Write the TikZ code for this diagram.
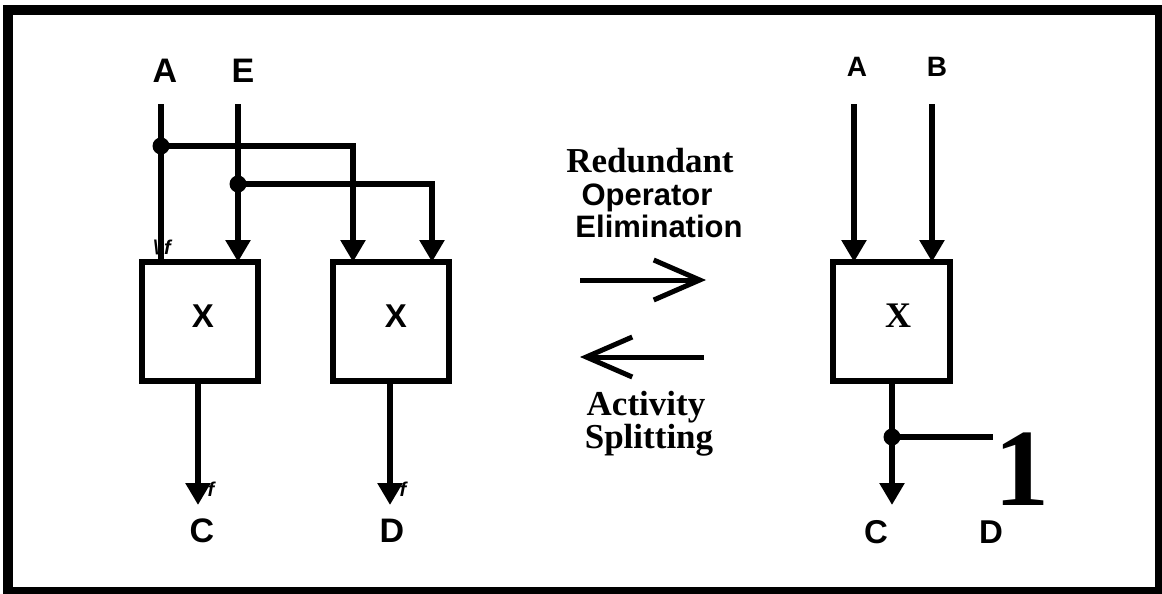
\documentclass[tikz,border=0pt]{standalone}
\usepackage{fontspec}
\setmainfont{Liberation Serif}
\setsansfont{Liberation Sans}
\usetikzlibrary{arrows.meta}
\begin{document}
\begin{tikzpicture}[x=1pt,y=-1pt,
  wire/.style={line width=6pt},
  arr/.style={wire,-{Triangle[width=24pt,length=22pt]}},
  opbox/.style={draw,line width=6pt,rectangle,minimum width=116pt,minimum height=119pt,inner sep=0pt,outer sep=0pt},
  lab/.style={font=\fontsize{34}{34}\sffamily\bfseries,inner sep=0pt},
  rlab/.style={font=\fontsize{28}{28}\sffamily\bfseries,inner sep=0pt},
  sflab/.style={font=\fontsize{31}{31}\sffamily\bfseries,inner sep=0pt,anchor=base},
  srlab/.style={font=\fontsize{35}{35}\rmfamily\bfseries,inner sep=0pt,anchor=base},
  flab/.style={font=\fontsize{20}{20}\sffamily\bfseries\itshape,inner sep=0pt},
  jdot/.style={circle,fill,inner sep=0pt,minimum size=17pt},
  fwd/.style={line width=5pt,-{Straight Barb[length=46pt,width=40pt,line width=5pt]}},
]
\useasboundingbox (0,0) rectangle (1162,594);
\draw[line width=10pt] (8,10) rectangle (1160,592);

% ---------- left circuit ----------
\node[opbox] (b1) at (200,321.5) {};
\node[opbox] (b2) at (391,321.5) {};
\node[lab,font=\fontsize{33}{33}\sffamily\bfseries] at (203,316) {X};
\node[lab,font=\fontsize{33}{33}\sffamily\bfseries] at (396,316) {X};

\node[lab] (la) at (165,71) {A};
\node[lab] (le) at (243,71) {E};
\coordinate (ta) at (161,104);
\coordinate (te) at (238,104);
\node[jdot] (da) at (161,146) {};
\node[jdot] (de) at (238,184) {};

\draw[wire] (ta) -- (ta |- b1.north);
\draw[arr] (te) -- (te |- b1.north);
\draw[arr] (da.center) -| (353,0 |- b2.north);
\draw[arr] (de.center) -| (432,0 |- b2.north);

\node[flab] at (162,247) {\textbackslash\textbackslash f};

\coordinate (o1) at (198,505);
\coordinate (o2) at (390,505);
\draw[arr] (b1.south -| o1) -- (o1);
\draw[arr] (b2.south -| o2) -- (o2);
\node[flab] at (211,489) {f};
\node[flab] at (403,489) {f};
\node[lab] (lc) at (202,531) {C};
\node[lab] (ld) at (392,531) {D};

% ---------- middle ----------
\node[srlab] at (650,172) {Redundant};
\node[sflab] at (647,205) {Operator};
\node[sflab] at (659,237) {Elimination};
\coordinate (r1) at (580,280);
\coordinate (r2) at (706,280);
\draw[fwd] (r1) -- (r2);
\coordinate (l1) at (704,357);
\coordinate (l2) at (580,357);
\draw[fwd] (l1) -- (l2);
\node[srlab] at (646,415) {Activity};
\node[srlab] at (649,448) {Splitting};

% ---------- right circuit ----------
\node[opbox,minimum width=117pt] (b3) at (891.5,321.5) {};
\node[font=\fontsize{36}{36}\rmfamily\bfseries,inner sep=0pt] at (898,316) {X};
\node[rlab] (ra) at (857,67) {A};
\node[rlab] (rb) at (937,67) {B};
\coordinate (tra) at (854,104);
\coordinate (trb) at (932,104);
\draw[arr] (tra) -- (tra |- b3.north);
\draw[arr] (trb) -- (trb |- b3.north);
\node[jdot] (dr) at (892,437) {};
\coordinate (o3) at (892,505);
\draw[arr] (b3.south -| o3) -- (o3);
\node[font=\fontsize{110}{110}\rmfamily\bfseries,inner sep=0pt,anchor=base] (one) at (1022,505) {1};
\draw[wire] (dr.center) -- (993,437);
\node[lab,font=\fontsize{33}{33}\sffamily\bfseries] (rc) at (876,532) {C};
\node[lab,font=\fontsize{33}{33}\sffamily\bfseries] (rd) at (991,532) {D};
\end{tikzpicture}
\end{document}
